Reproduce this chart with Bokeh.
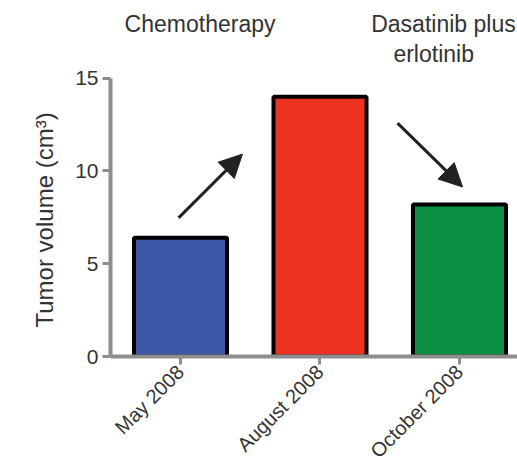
from math import pi
from bokeh.plotting import figure
from bokeh.models import Range1d, FixedTicker, ColumnDataSource, Arrow, NormalHead, Title
from bokeh.core.properties import value
from bokeh.embed import file_html
from bokeh.resources import INLINE

# ---- data ----
categories = ["May 2008", "August 2008", "October 2008"]
volumes = [6.4, 14.0, 8.2]
bar_colors = ["#3D57A6", "#EE3224", "#0A8F45"]
y_ticks = [0, 5, 10, 15]
y_title = "Tumor volume (cm³)"

# treatment annotations (x in category index units, y in data units)
note_texts = ["Chemotherapy", "Dasatinib plus", "erlotinib"]
note_x = [0.14, 1.885, 1.815]
note_y = [17.92, 17.92, 16.31]

# arrows: tail -> tip
arrow_x_start = [-0.014, 1.556]
arrow_y_start = [7.47, 12.58]
arrow_x_end = [0.444, 2.022]
arrow_y_end = [10.91, 9.14]

FONT = "Liberation Sans"
AXIS_GRAY = "#8E8E8E"

xs = list(range(len(categories)))

p = figure(width=517, height=472, output_backend="svg", toolbar_location=None,
           x_range=Range1d(-0.502, 2.416), y_range=Range1d(0, 19.19),
           min_border_left=110, min_border_right=0, min_border_top=0,
           min_border_bottom=115)
p.outline_line_color = None
p.xgrid.visible = False
p.ygrid.visible = False
p.background_fill_color = "white"

src = ColumnDataSource(dict(x=xs, top=volumes, color=bar_colors))
p.vbar(x="x", top="top", bottom=0, width=0.667, fill_color="color",
       line_color="black", line_width=4, source=src)

# y axis
ya = p.yaxis[0]
ya.ticker = FixedTicker(ticks=y_ticks)
ya.bounds = (0, 15)
ya.axis_line_color = AXIS_GRAY
ya.axis_line_width = 4
ya.major_tick_line_color = AXIS_GRAY
ya.major_tick_line_width = 3
ya.major_tick_out = 8
ya.major_tick_in = 0
ya.minor_tick_line_color = None
ya.major_label_standoff = 4
ya.major_label_text_font = FONT
ya.major_label_text_font_size = "21px"
ya.major_label_text_color = "#333333"

# y axis title as a side title, starting near the bottom of the drawn axis
p.add_layout(Title(text=y_title, align="left", offset=29, standoff=29,
                   text_font=FONT, text_font_size="24px", text_font_style="normal",
                   text_color="#333333"), "left")

# x axis
xa = p.xaxis[0]
xa.ticker = FixedTicker(ticks=xs)
xa.major_label_overrides = {i: c for i, c in zip(xs, categories)}
xa.axis_line_color = AXIS_GRAY
xa.axis_line_width = 4
xa.major_tick_line_color = AXIS_GRAY
xa.major_tick_line_width = 3
xa.major_tick_out = 8
xa.major_tick_in = 0
xa.minor_tick_line_color = None
xa.major_label_orientation = pi / 4
xa.major_label_standoff = 4
xa.major_label_text_font = FONT
xa.major_label_text_font_size = "20px"
xa.major_label_text_color = "#333333"

# annotations
nsrc = ColumnDataSource(dict(x=note_x, y=note_y, t=note_texts))
p.text(x="x", y="y", text="t", source=nsrc, text_font=value(FONT),
       text_font_size="23px", text_align="center", text_baseline="alphabetic",
       text_color="#333333")

for xs0, ys0, xe, ye in zip(arrow_x_start, arrow_y_start, arrow_x_end, arrow_y_end):
    p.add_layout(Arrow(x_start=xs0, y_start=ys0, x_end=xe, y_end=ye,
                       line_color="#222222", line_width=3,
                       end=NormalHead(size=23, fill_color="#222222",
                                      line_color="#222222", line_width=1)))

open("out.html", "w").write(file_html(p, INLINE))
